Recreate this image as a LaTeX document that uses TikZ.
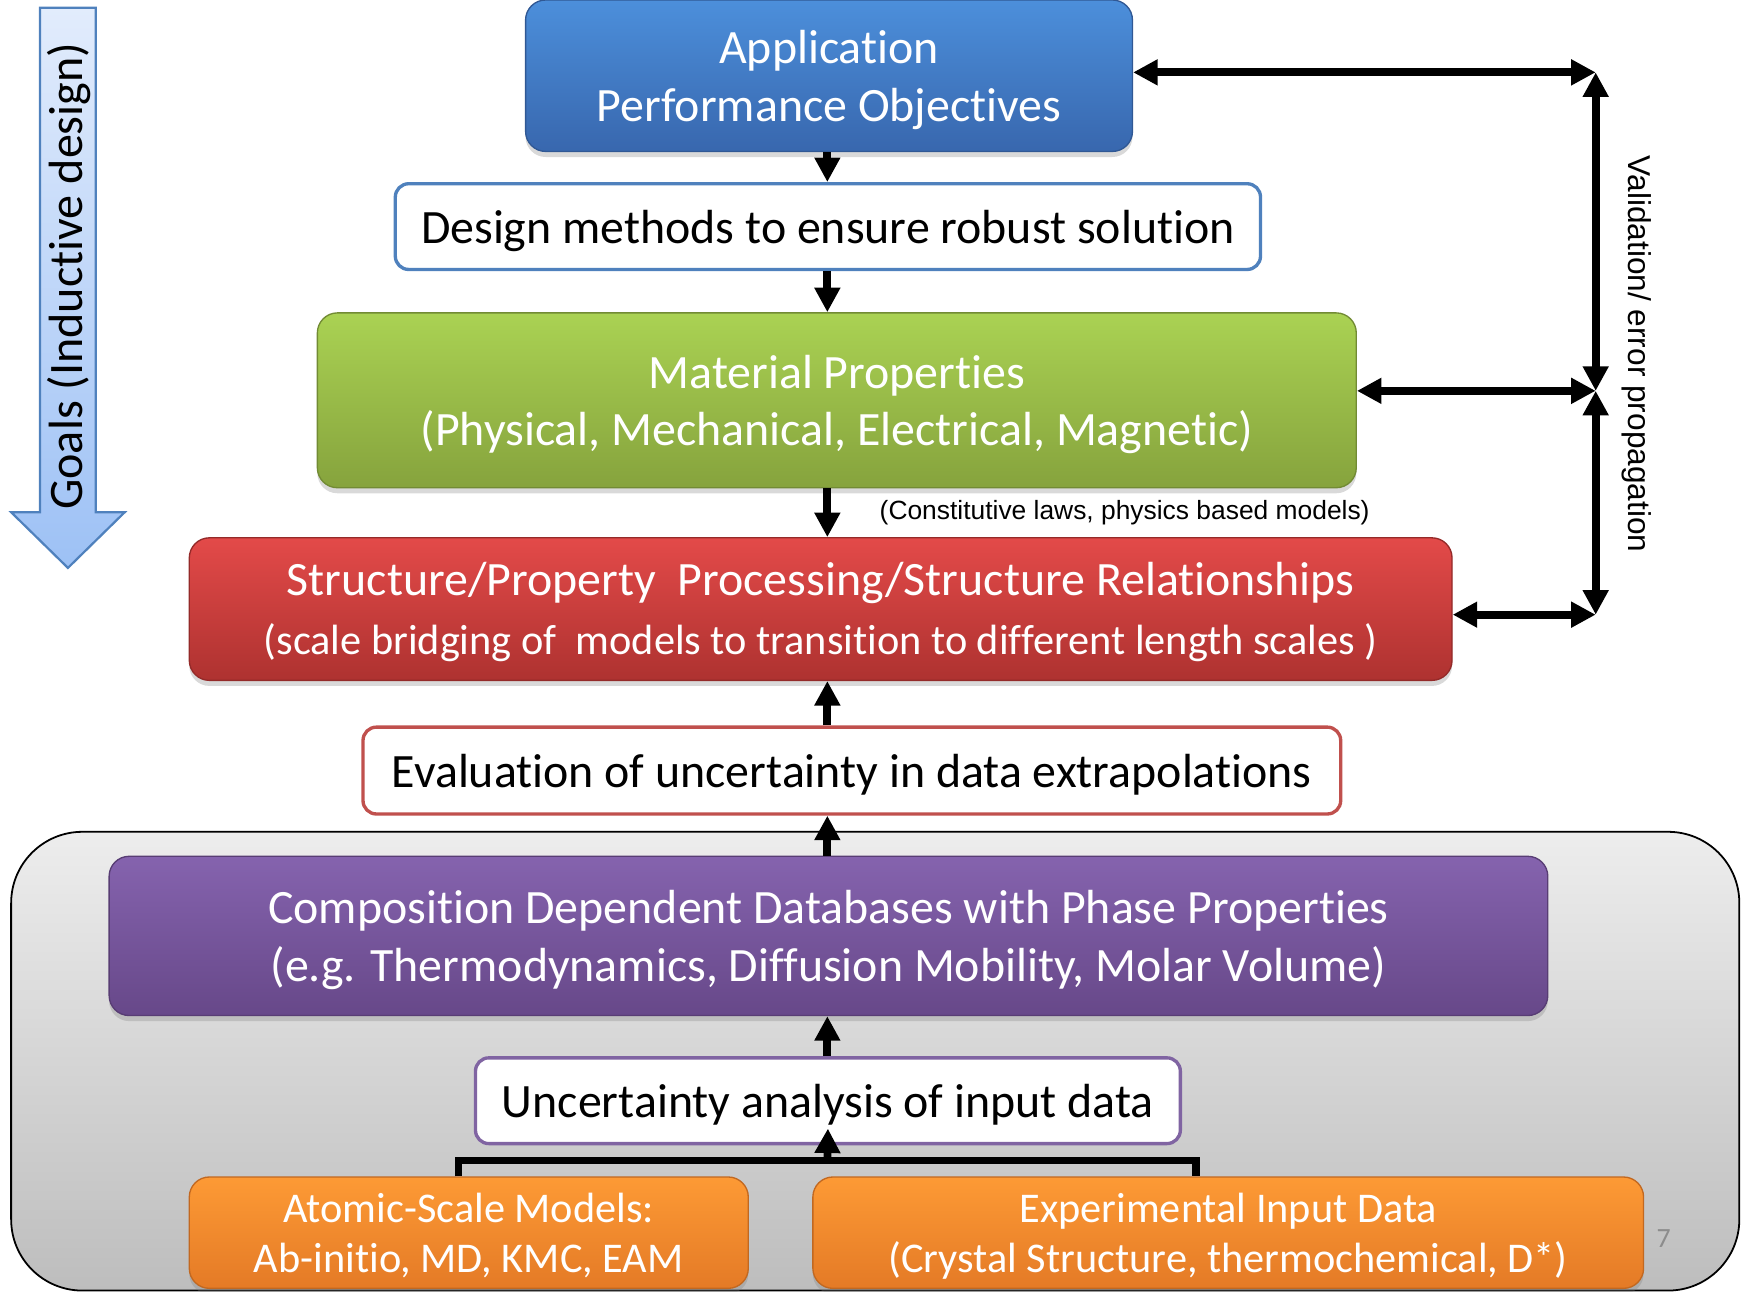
\documentclass[tikz,border=0pt]{standalone}
\usepackage{fontspec}
\setmainfont{Carlito}[Ligatures=NoCommon]
\newfontfamily\arialfont{Liberation Sans}
\usetikzlibrary{arrows.meta,shadows}

\definecolor{appTop}{HTML}{4C8FDB}
\definecolor{appBot}{HTML}{3867AE}
\definecolor{matTop}{HTML}{AAD253}
\definecolor{matBot}{HTML}{86A33D}
\definecolor{strTop}{HTML}{E34A49}
\definecolor{strBot}{HTML}{AE3230}
\definecolor{dbTop}{HTML}{8563AE}
\definecolor{dbBot}{HTML}{674889}
\definecolor{orTop}{HTML}{FD9A35}
\definecolor{orBot}{HTML}{E47A26}
\definecolor{panTop}{HTML}{EDEDED}
\definecolor{panBot}{HTML}{BDBDBD}
\definecolor{goalTop}{HTML}{E2ECFC}
\definecolor{goalBot}{HTML}{9DC1F5}
\definecolor{bluEdge}{HTML}{4F81BD}
\definecolor{redEdge}{HTML}{C0504D}
\definecolor{purEdge}{HTML}{8064A2}

\newcommand\boxfont{\fontsize{21.5}{26}\selectfont}
\newcommand\smallboxfont{\fontsize{19}{22.5}\selectfont}

\begin{document}
\begin{tikzpicture}[x=0.5pt,y=-0.5pt,
    colbox/.style={rounded corners=9pt, draw=#1, line width=0.6pt, text=white,
      align=center, inner sep=0pt, font=\boxfont, text height=41pt, text depth=0pt,
      drop shadow={shadow xshift=0pt,shadow yshift=-2.5pt,opacity=0.3}},
    linebox/.style={rounded corners=6pt, draw=#1, line width=1.5pt, fill=white,
      align=center, inner sep=0pt, font=\boxfont, text height=15pt, text depth=0pt},
    arr/.style={line width=3.5pt, -{Triangle[length=11pt,width=11pt]}},
    darr/.style={line width=3.5pt, {Triangle[length=11pt,width=11pt]}-{Triangle[length=11pt,width=11pt]}},
    brace/.style={line width=3.2pt}]

    \useasboundingbox (0,0) rectangle (1568,1160);

    % grey panel behind the data part
    \draw[rounded corners=32pt, top color=panTop, bottom color=panBot, line width=0.8pt]
      (10,747) rectangle (1562,1159);

    % goals arrow on the left
    \draw[top color=goalTop, bottom color=goalBot, draw=bluEdge, line width=1pt]
      (36,7) -- (86,7) -- (86,460) -- (112,460) -- (61,510) -- (10,460) -- (36,460) -- cycle;
    \node[rotate=90, font=\fontsize{21.6}{26}\selectfont] (goals) at (62,248) {Goals (Inductive design)};

    % boxes, top to bottom
    \node[colbox=appBot!85!black, top color=appTop, bottom color=appBot,
      minimum width=272.5pt, minimum height=68pt] (app) at (744.5,68)
      {Application\\Performance Objectives};
    \node[linebox=bluEdge, minimum width=388.5pt, minimum height=38.5pt] (design) at (743.5,203.5)
      {Design methods to ensure robust solution};
    \node[colbox=matBot!85!black, top color=matTop, bottom color=matBot,
      minimum width=466.5pt, minimum height=78.5pt] (matprop) at (751.5,359.5)
      {Material Properties\\(Physical, Mechanical, Electrical, Magnetic)};
    \node[colbox=strBot!85!black, top color=strTop, bottom color=strBot,
      minimum width=567pt, minimum height=64pt, font=\fontsize{21.5}{26.5}\selectfont,
      text height=40.6pt] (struct) at (737,547)
      {Structure/Property~~Processing/Structure Relationships\\
       \fontsize{19}{26.5}\selectfont(scale bridging of~~models to transition to different length scales )};
    \node[linebox=redEdge, minimum width=439pt, minimum height=39pt] (evalbox) at (765,692)
      {Evaluation of uncertainty in data extrapolations};
    \node[colbox=dbBot!85!black, top color=dbTop, bottom color=dbBot,
      minimum width=646pt, minimum height=71.5pt] (compdb) at (744,840.5)
      {Composition Dependent Databases with Phase Properties\\(e.g. Thermodynamics, Diffusion Mobility, Molar Volume)};
    \node[linebox=purEdge, minimum width=316.5pt, minimum height=38.5pt] (uncert) at (743.5,988.5)
      {Uncertainty analysis of input data};
    \node[colbox=orBot!85!black, top color=orTop, bottom color=orBot, font=\smallboxfont,
      text height=35.7pt,
      minimum width=251pt, minimum height=50pt] (atomic) at (421,1107)
      {Atomic-Scale Models:\\Ab-initio, MD, KMC, EAM};
    \node[colbox=orBot!85!black, top color=orTop, bottom color=orBot, font=\smallboxfont,
      text height=35.7pt,
      minimum width=373pt, minimum height=50pt] (exper) at (1103,1107)
      {Experimental Input Data\\(Crystal Structure, thermochemical, D*)};

    % labels
    \node[font=\arialfont\fontsize{11.85}{14}\selectfont] (constlbl) at (1010,460)
      {(Constitutive laws, physics based models)};
    \node[rotate=-90, font=\arialfont\fontsize{14.2}{17}\selectfont] (valtext) at (1470,318)
      {Validation/ error propagation};
    \node[text=black!45, font=\fontsize{12.5}{15}\selectfont] (pagenum) at (1494,1112) {7};

    % main spine
    \coordinate (spine) at (743,0);
    \draw[arr] (app.south -| spine) -- (design.north -| spine);
    \draw[arr] (design.south -| spine) -- (matprop.north -| spine);
    \draw[arr] (matprop.south -| spine) -- (struct.north -| spine);
    \draw[arr] (evalbox.north -| spine) -- (struct.south -| spine);
    \draw[arr] (compdb.north -| spine) -- (evalbox.south -| spine);
    \draw[arr] (uncert.north -| spine) -- (compdb.south -| spine);

    % inputs joined into one
    \coordinate (brl) at (412,1042);
    \coordinate (brr) at (1074,1042);
    \coordinate (fork) at (743,1042);
    \draw[brace] (brl |- atomic.north) -- (brl) -- (brr) -- (brr |- exper.north);
    \draw[arr] (fork) -- ([yshift=7.5pt]uncert.south);

    % validation loop on the right
    \coordinate (vtop) at (1433,65);
    \coordinate (vmid) at (1433,351);
    \coordinate (vbot) at (1433,552);
    \draw[darr] (vtop -| app.east) -- (vtop);
    \draw[darr] (vmid -| matprop.east) -- (vmid);
    \draw[darr] (vbot -| struct.east) -- (vbot);
    \draw[darr] (vtop) -- (vmid);
    \draw[darr] (vmid) -- (vbot);

\end{tikzpicture}
\end{document}
